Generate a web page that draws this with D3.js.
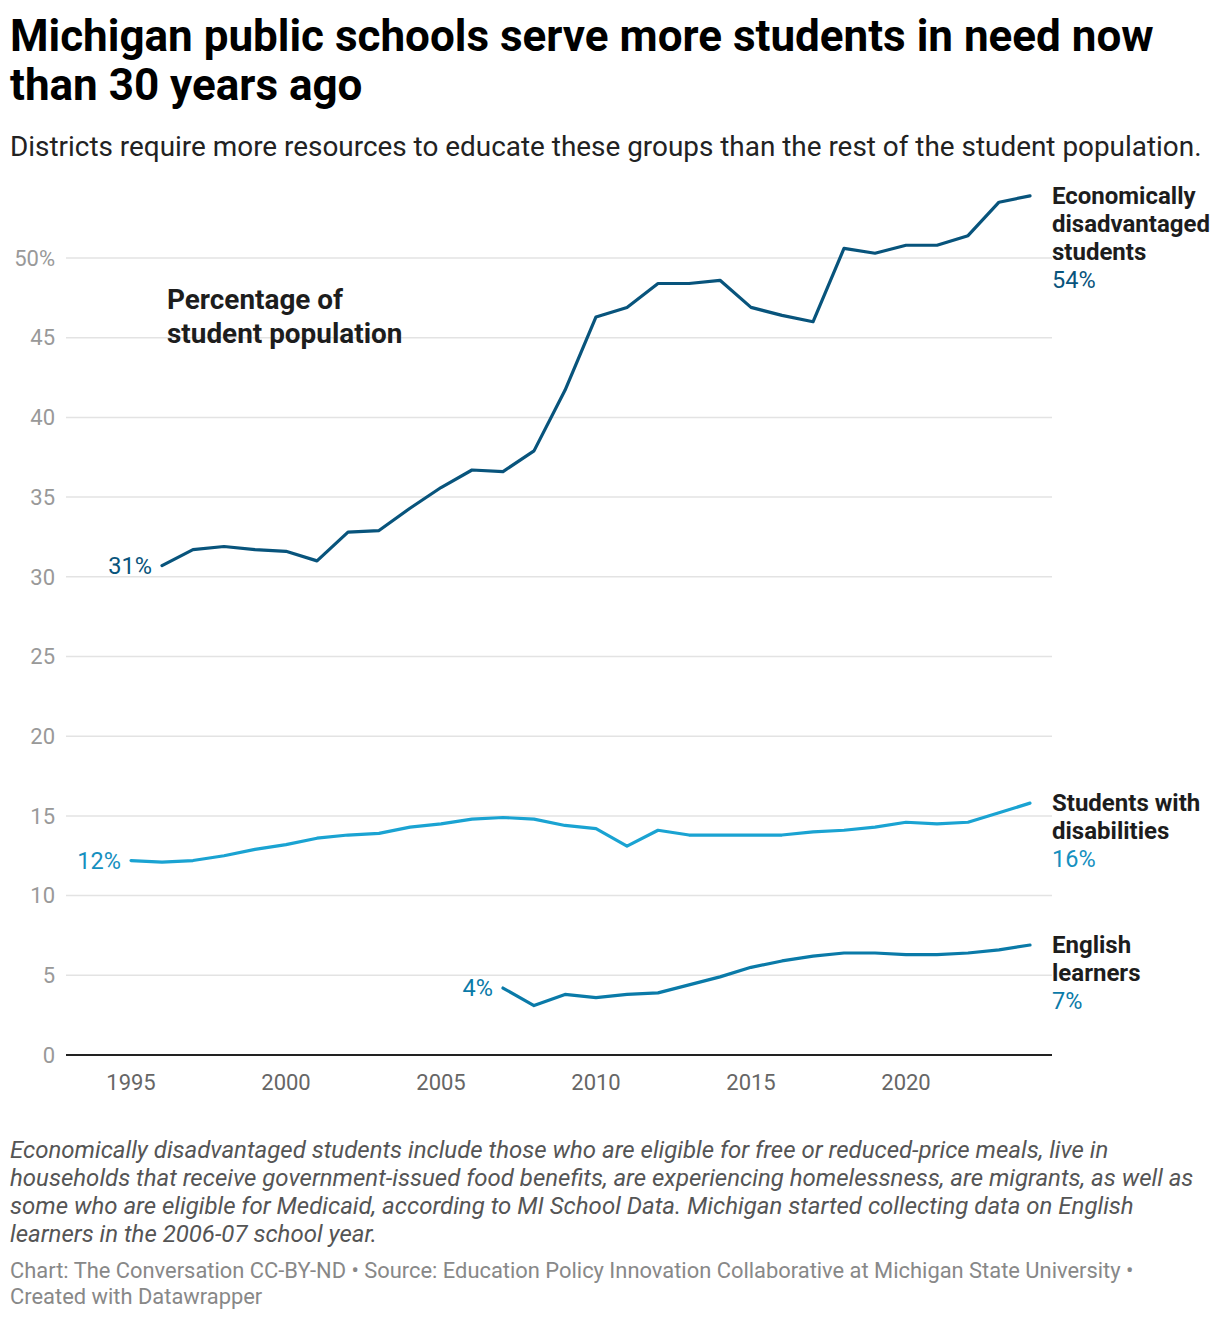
<!DOCTYPE html>
<html>
<head>
<meta charset="utf-8">
<script src="https://cdn.jsdelivr.net/npm/d3@7"></script>
<style>
  body { margin: 0; background: #fff; font-family: Roboto, "Noto Sans", sans-serif; }
  .title { font-weight: 700; font-size: 44px; fill: #000; }
  .subtitle { font-size: 27.9px; fill: #222; }
  .ytick { font-size: 22px; fill: #999; }
  .xtick { font-size: 22px; fill: #666; }
  .label { font-weight: 700; font-size: 24px; fill: #1d1d1d; }
  .value { font-size: 23.5px; }
  .note { font-style: italic; font-size: 24px; fill: #555; }
  .credit { font-size: 21.9px; fill: #888; }
</style>
</head>
<body>
<div id="chart"></div>
<script>
// years
var econYears = d3.range(1996, 2025);
var disYears = d3.range(1995, 2025);
var elYears = d3.range(2007, 2025);

// percentage of student population
var econValues = [30.7, 31.7, 31.9, 31.7, 31.6, 31.0, 32.8, 32.9, 34.3, 35.6, 36.7, 36.6, 37.9, 41.7,
  46.3, 46.9, 48.4, 48.4, 48.6, 46.9, 46.4, 46.0, 50.6, 50.3, 50.8, 50.8, 51.4, 53.5, 53.9];
var disValues = [12.2, 12.1, 12.2, 12.5, 12.9, 13.2, 13.6, 13.8, 13.9, 14.3, 14.5, 14.8, 14.9, 14.8,
  14.4, 14.2, 13.1, 14.1, 13.8, 13.8, 13.8, 13.8, 14.0, 14.1, 14.3, 14.6, 14.5, 14.6, 15.2, 15.8];
var elValues = [4.2, 3.1, 3.8, 3.6, 3.8, 3.9, 4.4, 4.9, 5.5, 5.9, 6.2, 6.4, 6.4, 6.3, 6.3, 6.4, 6.6, 6.9];

var yTicks = [0, 5, 10, 15, 20, 25, 30, 35, 40, 45, 50];
var xTicks = [1995, 2000, 2005, 2010, 2015, 2020];

var seriesNames = [["Economically", "disadvantaged", "students"], ["Students with", "disabilities"], ["English", "learners"]];
var seriesColors = ["#08547c", "#1aa3d2", "#0a7aa8"];
var valueColors = ["#08547c", "#1590bf", "#0a7aa8"];

var titleLines = ["Michigan public schools serve more students in need now", "than 30 years ago"];
var subtitle = "Districts require more resources to educate these groups than the rest of the student population.";
var noteLines = [
  "Economically disadvantaged students include those who are eligible for free or reduced-price meals, live in",
  "households that receive government-issued food benefits, are experiencing homelessness, are migrants, as well as",
  "some who are eligible for Medicaid, according to MI School Data. Michigan started collecting data on English",
  "learners in the 2006-07 school year."
];
var creditLines = [
  "Chart: The Conversation CC-BY-ND \u2022 Source: Education Policy Innovation Collaborative at Michigan State University \u2022",
  "Created with Datawrapper"
];

var W = 1220, H = 1320;
var plot = { left: 66, right: 1052, top: 258, bottom: 1055 };

var svg = d3.select("#chart").append("svg")
  .attr("width", W).attr("height", H);

var x = d3.scaleLinear().domain([1995, 2024]).range([131, 1030]);
var y = d3.scaleLinear().domain([0, 50]).range([plot.bottom, plot.top]);

// header
svg.selectAll(".title").data(titleLines).enter().append("text")
  .attr("class", "title")
  .attr("x", 10).attr("y", function(d, i) { return 51 + i * 49; })
  .text(function(d) { return d; });

svg.append("text").attr("class", "subtitle")
  .attr("x", 10).attr("y", 156).text(subtitle);

// grid
svg.selectAll(".grid").data(yTicks.filter(function(d) { return d > 0; })).enter().append("line")
  .attr("x1", plot.left).attr("x2", plot.right)
  .attr("y1", function(d) { return y(d); }).attr("y2", function(d) { return y(d); })
  .attr("stroke", "#e3e3e3").attr("stroke-width", 1.5);

svg.selectAll(".ytick").data(yTicks).enter().append("text")
  .attr("class", "ytick")
  .attr("x", 55).attr("y", function(d) { return y(d); })
  .attr("dy", "0.35em").attr("text-anchor", "end")
  .text(function(d) { return d === 50 ? d + "%" : d; });

svg.selectAll(".xtick").data(xTicks).enter().append("text")
  .attr("class", "xtick")
  .attr("x", function(d) { return x(d); }).attr("y", 1090)
  .attr("text-anchor", "middle")
  .text(function(d) { return d; });

svg.append("line")
  .attr("x1", plot.left).attr("x2", plot.right)
  .attr("y1", y(0)).attr("y2", y(0))
  .attr("stroke", "#222").attr("stroke-width", 2);

// lines
var series = [
  { years: econYears, values: econValues },
  { years: disYears, values: disValues },
  { years: elYears, values: elValues }
];

var line = d3.line()
  .x(function(d) { return x(d[0]); })
  .y(function(d) { return y(d[1]); });

series.forEach(function(s, i) {
  var pts = d3.zip(s.years, s.values);
  svg.append("path")
    .datum(pts)
    .attr("fill", "none")
    .attr("stroke", seriesColors[i])
    .attr("stroke-width", 3.2)
    .attr("stroke-linejoin", "round")
    .attr("stroke-linecap", "round")
    .attr("d", line);

  // start value
  var first = pts[0];
  svg.append("text").attr("class", "value")
    .attr("x", x(first[0]) - 10).attr("y", y(first[1]))
    .attr("dy", "0.35em").attr("text-anchor", "end")
    .attr("fill", valueColors[i])
    .text(Math.round(first[1]) + "%");

  // end label
  var last = pts[pts.length - 1];
  var names = seriesNames[i];
  var top = y(last[1]) + 8;
  var g = svg.append("g");
  g.selectAll("text.label").data(names).enter().append("text")
    .attr("class", "label")
    .attr("x", 1052).attr("y", function(d, j) { return top + j * 28; })
    .text(function(d) { return d; });
  g.append("text").attr("class", "value")
    .attr("x", 1052).attr("y", top + names.length * 28)
    .attr("fill", valueColors[i])
    .text(Math.round(last[1]) + "%");
});

// annotation
svg.selectAll(".anno").data(["Percentage of", "student population"]).enter().append("text")
  .attr("x", 167).attr("y", function(d, i) { return 309 + i * 34; })
  .attr("font-weight", 700).attr("font-size", 27.9).attr("fill", "#1d1d1d")
  .text(function(d) { return d; });

// notes
svg.selectAll(".note").data(noteLines).enter().append("text")
  .attr("class", "note")
  .attr("x", 10).attr("y", function(d, i) { return 1158 + i * 28; })
  .text(function(d) { return d; });

svg.selectAll(".credit").data(creditLines).enter().append("text")
  .attr("class", "credit")
  .attr("x", 10).attr("y", function(d, i) { return 1278 + i * 26; })
  .text(function(d) { return d; });
</script>
</body>
</html>
